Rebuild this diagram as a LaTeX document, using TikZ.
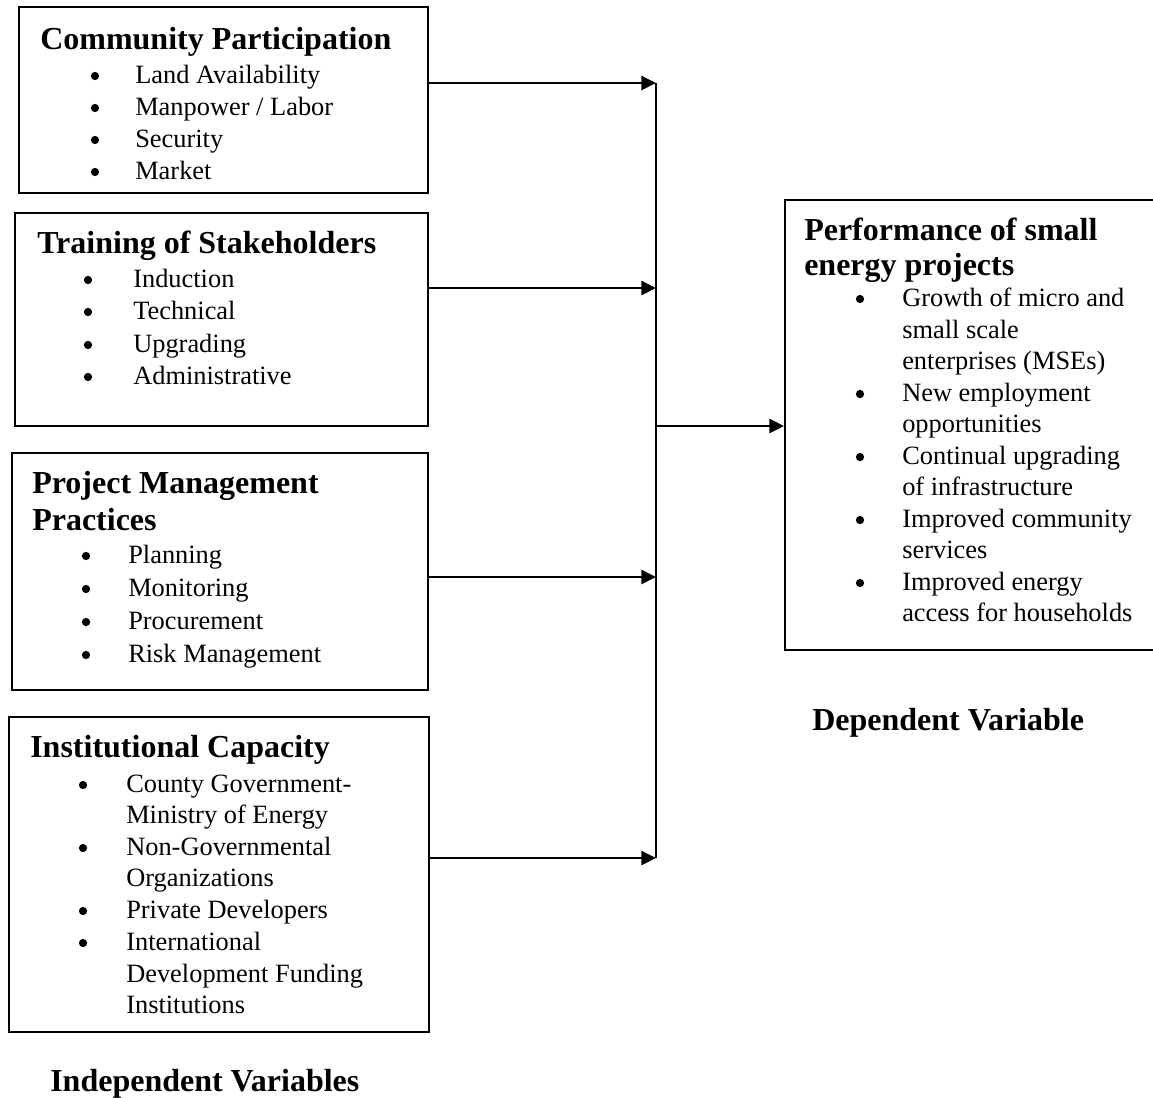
\documentclass[tikz,border=0pt]{standalone}
\usepackage{fontspec}
\setmainfont{Liberation Serif}
\usepackage{tikz}
\usetikzlibrary{positioning}
\usetikzlibrary{arrows.meta}
\usetikzlibrary{fit}
\usepackage{xcolor}

\begin{document}
\begin{tikzpicture}[x=0.75pt, y=-0.75pt,
		box/.style={draw=black, line width=1.4pt, inner sep=0pt},
		head/.style={anchor=base west, inner sep=0pt, font=\fontsize{24pt}{28pt}\selectfont\bfseries},
		item/.style={anchor=base west, inner sep=0pt, font=\fontsize{19.8pt}{24pt}\selectfont},
		dot/.style={circle, fill=black, inner sep=0pt, minimum size=6.2pt},
		arr/.style={line width=1.9pt, -{Triangle[length=11pt, width=10.5pt]}}]
			\useasboundingbox (0, 0) rectangle (1153, 1097);

			% independent variables
			\node[box, fit={(19, 7) (428, 193)}] (comm) {};
			\node[head] (comm-t) at (40, 49) {Community Participation};
			\node[dot] (comm-d1) at (95, 76) {};
			\node[dot] (comm-d2) at (95, 108) {};
			\node[dot] (comm-d3) at (95, 140) {};
			\node[dot] (comm-d4) at (95, 172) {};
			\node[item] (comm-1) at (135, 83) {Land Availability};
			\node[item] (comm-2) at (135, 115) {Manpower / Labor};
			\node[item] (comm-3) at (135, 147) {Security};
			\node[item] (comm-4) at (135, 179) {Market};

			\node[box, fit={(15, 213) (428, 426)}] (train) {};
			\node[head] (train-t) at (37, 253) {Training of Stakeholders};
			\node[dot] (train-d1) at (88, 280) {};
			\node[dot] (train-d2) at (88, 312) {};
			\node[dot] (train-d3) at (88, 345) {};
			\node[dot] (train-d4) at (88, 377) {};
			\node[item] (train-1) at (133, 287) {Induction};
			\node[item] (train-2) at (133, 319) {Technical};
			\node[item] (train-3) at (133, 352) {Upgrading};
			\node[item] (train-4) at (133, 384) {Administrative};

			\node[box, fit={(12, 453) (428, 690)}] (pmp) {};
			\node[head] (pmp-t1) at (32, 493) {Project Management};
			\node[head] (pmp-t2) at (32, 530) {Practices};
			\node[dot] (pmp-d1) at (86, 556) {};
			\node[dot] (pmp-d2) at (86, 589) {};
			\node[dot] (pmp-d3) at (86, 622) {};
			\node[dot] (pmp-d4) at (86, 655) {};
			\node[item] (pmp-1) at (128, 563) {Planning};
			\node[item] (pmp-2) at (128, 596) {Monitoring};
			\node[item] (pmp-3) at (128, 629) {Procurement};
			\node[item] (pmp-4) at (128, 662) {Risk Management};

			\node[box, fit={(9, 717) (429, 1032)}] (inst) {};
			\node[head] (inst-t) at (30, 757) {Institutional Capacity};
			\node[dot] (inst-d1) at (83, 785) {};
			\node[dot] (inst-d2) at (83, 848) {};
			\node[dot] (inst-d3) at (83, 911) {};
			\node[dot] (inst-d4) at (83, 943) {};
			\node[item] (inst-1) at (126, 792) {County Government-};
			\node[item] (inst-1b) at (126, 823) {Ministry of Energy};
			\node[item] (inst-2) at (126, 855) {Non-Governmental};
			\node[item] (inst-2b) at (126, 886) {Organizations};
			\node[item] (inst-3) at (126, 918) {Private Developers};
			\node[item] (inst-4) at (126, 950) {International};
			\node[item] (inst-4b) at (126, 982) {Development Funding};
			\node[item] (inst-4c) at (126, 1013) {Institutions};

			\node[head] (indep) at (50, 1091) {Independent Variables};

			% dependent variable
			\node[box, fit={(785, 200) (1156, 650)}] (perf) {};
			\node[head] (perf-t1) at (804, 240) {Performance of small};
			\node[head] (perf-t2) at (804, 275) {energy projects};
			\node[dot] (perf-d1) at (860, 299) {};
			\node[dot] (perf-d2) at (860, 394) {};
			\node[dot] (perf-d3) at (860, 457) {};
			\node[dot] (perf-d4) at (860, 520) {};
			\node[dot] (perf-d5) at (860, 583) {};
			\node[item] (perf-1) at (902, 306) {Growth of micro and};
			\node[item] (perf-1b) at (902, 338) {small scale};
			\node[item] (perf-1c) at (902, 369) {enterprises (MSEs)};
			\node[item] (perf-2) at (902, 401) {New employment};
			\node[item] (perf-2b) at (902, 432) {opportunities};
			\node[item] (perf-3) at (902, 464) {Continual upgrading};
			\node[item] (perf-3b) at (902, 495) {of infrastructure};
			\node[item] (perf-4) at (902, 527) {Improved community};
			\node[item] (perf-4b) at (902, 558) {services};
			\node[item] (perf-5) at (902, 590) {Improved energy};
			\node[item] (perf-5b) at (902, 621) {access for households};

			\node[head] (dep) at (812, 730) {Dependent Variable};

			% joints on the collecting line
			\coordinate (j1) at (656, 83);
			\coordinate (j2) at (656, 288);
			\coordinate (j3) at (656, 577);
			\coordinate (j4) at (656, 858);
			\coordinate (j0) at (656, 426);

			\draw[arr] (comm.east |- j1) -- (j1);
			\draw[arr] (train.east |- j2) -- (j2);
			\draw[arr] (pmp.east |- j3) -- (j3);
			\draw[arr] (inst.east |- j4) -- (j4);
			\draw[line width=1.9pt] (j1) -- (j4);
			\draw[arr] (j0) -- (perf.west |- j0);
\end{tikzpicture}
\end{document}
